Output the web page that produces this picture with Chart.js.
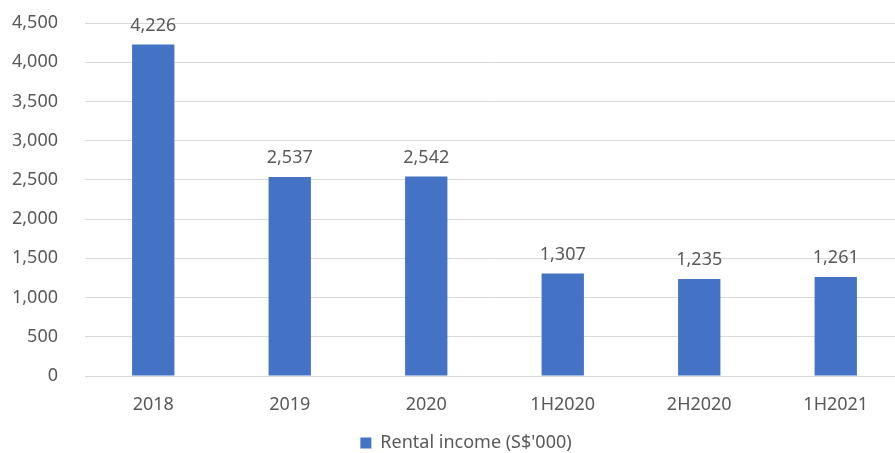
<!DOCTYPE html>
<html>
<head>
<meta charset="utf-8">
<script src="https://cdn.jsdelivr.net/npm/chart.js@4/dist/chart.umd.min.js"></script>
<style>
  html, body { margin: 0; padding: 0; background: #fff; overflow: hidden; }
  #wrap { width: 904px; height: 453px; }
</style>
</head>
<body>
<div id="wrap"><canvas id="myChart"></canvas></div>
<script>
const categories = ["2018", "2019", "2020", "1H2020", "2H2020", "1H2021"];
const rentalIncome = [4226, 2537, 2542, 1307, 1235, 1261];
const yTicks = [0, 500, 1000, 1500, 2000, 2500, 3000, 3500, 4000, 4500];

const textColor = "#595959";
const font = { family: "'Noto Sans', sans-serif", size: 18 };

// print each bar's value just above it
const valueLabels = {
  id: "valueLabels",
  afterDatasetsDraw(chart) {
    const ctx = chart.ctx;
    const meta = chart.getDatasetMeta(0);
    ctx.save();
    ctx.font = "18px 'Noto Sans', sans-serif";
    ctx.fillStyle = textColor;
    ctx.textAlign = "center";
    ctx.textBaseline = "bottom";
    meta.data.forEach((bar, i) => {
      ctx.fillText(rentalIncome[i].toLocaleString("en-US"), bar.x, bar.y - 10);
    });
    ctx.restore();
  }
};

// let the y tick labels use the left padding too, so they aren't clipped
const widenYAxis = {
  id: "widenYAxis",
  afterLayout(chart) {
    chart.scales.y.left = 0;
  }
};

new Chart(document.getElementById("myChart"), {
  type: "bar",
  data: {
    labels: categories,
    datasets: [{
      label: "Rental income (S$'000)",
      data: rentalIncome,
      backgroundColor: "#4472C4",
      barPercentage: 0.62,
      categoryPercentage: 0.5
    }]
  },
  options: {
    responsive: true,
    maintainAspectRatio: false,
    animation: false,
    layout: { padding: { top: 23, left: 28, right: 0, bottom: -9 } },
    scales: {
      x: {
        grid: { display: false, drawTicks: false },
        border: { color: "#D9D9D9" },
        ticks: { color: textColor, font: font, padding: 18 },
        afterFit(axis) { axis.height = 58; }
      },
      y: {
        min: 0,
        max: 4500,
        afterBuildTicks(axis) { axis.ticks = yTicks.map(v => ({ value: v })); },
        afterFit(axis) {
          axis.width = 57;
          axis.paddingTop = 0;
          axis.paddingBottom = 0;
        },
        grid: { color: "#D9D9D9", drawTicks: false },
        border: { display: false },
        ticks: {
          color: textColor,
          font: font,
          padding: 27,
          callback: v => v.toLocaleString("en-US")
        }
      }
    },
    plugins: {
      legend: {
        position: "bottom",
        labels: {
          color: textColor,
          font: font,
          boxWidth: 11,
          boxHeight: 11,
          padding: 0
        }
      },
      tooltip: { enabled: false }
    }
  },
  plugins: [valueLabels, widenYAxis]
});
</script>
</body>
</html>
